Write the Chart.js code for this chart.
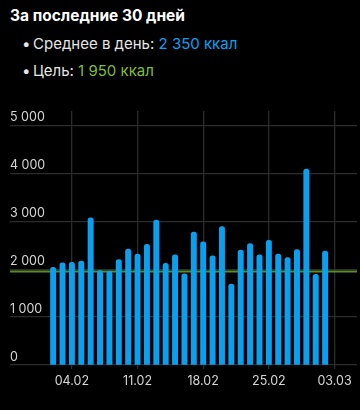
<!DOCTYPE html>
<html>
<head>
<meta charset="utf-8">
<script src="https://cdn.jsdelivr.net/npm/chart.js@4"></script>
<style>
  html, body { margin: 0; padding: 0; background: #000; }
  body { width: 360px; height: 410px; position: relative; overflow: hidden; font-family: Inter, "Noto Sans", sans-serif; }
  .title { position: absolute; left: 10px; top: 6px; color: #fff; font-size: 15.5px; font-weight: 700; }
  .row { position: absolute; left: 22px; color: #e6e6e6; font-size: 15px; }
  .row .dot { display: inline-block; width: 11px; }
  .blue { color: #0aa0f0; }
  .green { color: #7dbf3c; }
  #wrap { position: absolute; left: 0; top: 100px; width: 360px; height: 310px; }
</style>
</head>
<body>
<div class="title">За последние 30 дней</div>
<div class="row" style="top:34px"><span class="dot">•</span>Среднее в день: <span class="blue">2 350 ккал</span></div>
<div class="row" style="top:61px"><span class="dot">•</span>Цель: <span class="green">1 950 ккал</span></div>
<div id="wrap"><canvas id="kcal"></canvas></div>
<script>
  // ── данные: ккал по дням ──
  const dates = [
    '02.02','03.02','04.02','05.02','06.02','07.02','08.02','09.02','10.02','11.02',
    '12.02','13.02','14.02','15.02','16.02','17.02','18.02','19.02','20.02','21.02',
    '22.02','23.02','24.02','25.02','26.02','27.02','28.02','29.02','01.03','02.03','03.03'
  ];
  const kcal = [
    2040,2130,2140,2170,3070,1970,1960,2200,2420,2315,
    2520,3025,2120,2300,1900,2775,2570,2280,2890,1690,
    2400,2535,2300,2600,2315,2240,2410,4090,1890,2375,null
  ];
  const goal = 1950;
  const tickDates = ['04.02','11.02','18.02','25.02','03.03'];
  const yTicks = [0,1000,2000,3000,4000,5000];

  const fmt = v => v >= 1000 ? String(v).replace(/\B(?=(\d{3})+(?!\d))/g, ' ') : String(v);

  // цель — линия под столбиками
  const goalLine = {
    id: 'goalLine',
    beforeDatasetsDraw(chart) {
      const { ctx, chartArea, scales } = chart;
      const y = scales.y.getPixelForValue(goal);
      ctx.save();
      ctx.strokeStyle = '#5d8a28';
      ctx.lineWidth = 2;
      ctx.beginPath();
      ctx.moveTo(chartArea.left, y);
      ctx.lineTo(chartArea.right, y);
      ctx.stroke();
      ctx.restore();
    }
  };

  const ctx = document.getElementById('kcal').getContext('2d');
  new Chart(ctx, {
    type: 'bar',
    data: {
      datasets: [{
        data: kcal.map((v, i) => ({ x: i, y: v })),
        backgroundColor: '#0aa0f0',
        barThickness: 5.3,
        borderRadius: 2.5,
        borderSkipped: 'start'
      }]
    },
    plugins: [goalLine],
    options: {
      responsive: true,
      maintainAspectRatio: false,
      animation: false,
      layout: { padding: { left: 10, right: 3, top: 11, bottom: 16 } },
      plugins: { legend: { display: false }, tooltip: { enabled: false } },
      scales: {
        x: {
          type: 'linear',
          offset: false,
          min: -4.6,
          max: 32.4,
          afterBuildTicks: s => { s.ticks = tickDates.map(d => ({ value: dates.indexOf(d) })); },
          ticks: {
            callback: v => dates[v],
            color: '#d6d6d6',
            font: { family: 'Inter', size: 12.5 },
            padding: 5,
            maxRotation: 0
          },
          grid: { color: '#2c2c2c', lineWidth: 1.3, tickLength: 4, offset: false },
          border: { display: false }
        },
        y: {
          min: 0,
          max: 5300,
          afterBuildTicks: s => { s.ticks = yTicks.map(v => ({ value: v })); },
          ticks: {
            mirror: true,
            padding: 0,
            labelOffset: -8,
            callback: v => fmt(v),
            color: '#d6d6d6',
            font: { family: 'Inter', size: 12.5 }
          },
          grid: { color: '#2c2c2c', lineWidth: 1.3, drawTicks: false },
          border: { display: false }
        }
      }
    }
  });
</script>
</body>
</html>
